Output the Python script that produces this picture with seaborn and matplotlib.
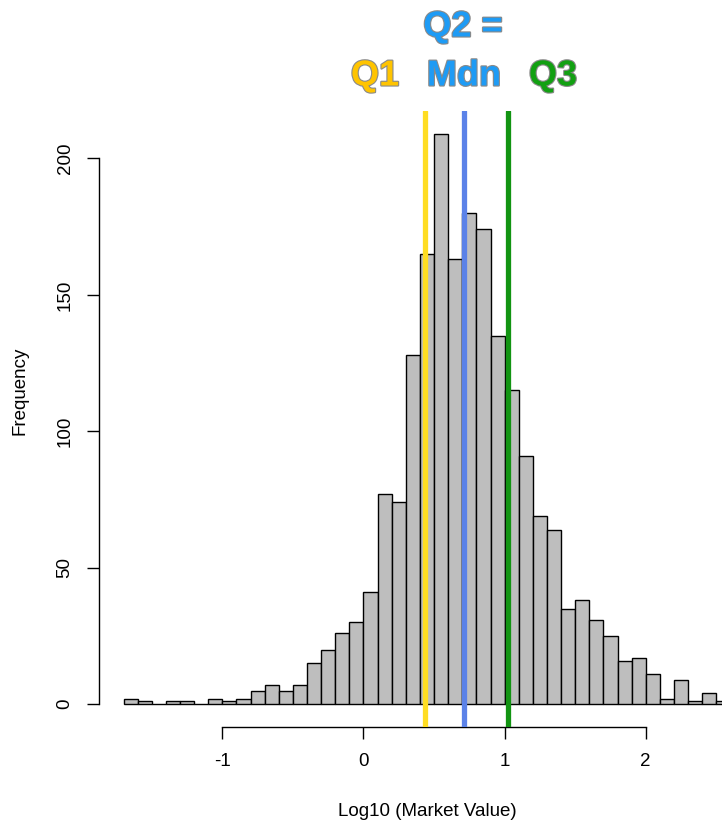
import numpy as np
import pandas as pd
import matplotlib
matplotlib.use("Agg")
import matplotlib.pyplot as plt
import matplotlib.patheffects as pe
import seaborn as sns

# ---- data ----
bin_starts = [round(-1.7 + 0.1 * i, 1) for i in range(43)]
counts = [2, 1, 0, 1, 1, 0, 2, 1, 2, 5, 7, 5, 7, 15, 20, 26, 30,
          41, 77, 74, 128, 165, 209, 163, 180, 174, 135, 115, 91, 69, 64,
          35, 38, 31, 25, 16, 17, 11, 2, 9, 1, 4, 1]
bin_width = 0.1
quartile_names = ["Q1", "Q2", "Q3"]
quartile_values = [0.437, 0.713, 1.027]
quartile_line_colors = ["#FFDD22", "#5B82E8", "#129412"]
x_ticks = [-1, 0, 1, 2]
y_ticks = [0, 50, 100, 150, 200]

centers = np.array(bin_starts) + bin_width / 2
df = pd.DataFrame({"value": centers, "count": counts})

sns.set_theme(style="white")
plt.rcParams["font.family"] = ["Liberation Sans", "DejaVu Sans"]

W, H = 722, 825
fig = plt.figure(figsize=(W / 100, H / 100), dpi=100)
left_px, right_px, top_px, bottom_px = 99.3, 754.7, 111, 727
ax = fig.add_axes([left_px / W, 1 - bottom_px / H,
                   (right_px - left_px) / W, (bottom_px - top_px) / H])

sns.histplot(data=df, x="value", weights="count", binwidth=bin_width,
             binrange=(bin_starts[0], bin_starts[-1] + bin_width), ax=ax,
             color="#BEBEBE", edgecolor="black", linewidth=1.0, alpha=1.0)

for v, c in zip(quartile_values, quartile_line_colors):
    ax.axvline(v, color=c, linewidth=3.8, zorder=5)

ax.set_xlim(-1.872, 2.772)
ax.set_ylim(-8.36, 217.36)

for s in ["top", "right"]:
    ax.spines[s].set_visible(False)
ax.spines["bottom"].set_bounds(-1, 2)
ax.spines["left"].set_bounds(0, 200)
for s in ["bottom", "left"]:
    ax.spines[s].set_color("black")
    ax.spines[s].set_linewidth(1.0)

ax.set_xticks(x_ticks)
ax.set_xticklabels([str(t) for t in x_ticks])
ax.set_yticks(y_ticks)
ax.set_yticklabels([str(t) for t in y_ticks], rotation=90, va="center")
ax.tick_params(axis="both", direction="out", length=8.5, width=1.0,
               color="black", labelsize=13.5, labelcolor="black",
               bottom=True, left=True)
ax.tick_params(axis="x", pad=10)
ax.tick_params(axis="y", pad=10)

ax.set_xlabel("Log10 (Market Value)", fontsize=13.5, color="black")
ax.set_ylabel("Frequency", fontsize=13.5, color="black")
ax.xaxis.set_label_coords(0.5, (bottom_px - 812) / (bottom_px - top_px))
ax.yaxis.set_label_coords((20 - left_px) / (right_px - left_px),
                          (bottom_px - 391) / (bottom_px - top_px))
ax.xaxis.label.set_va("center")
ax.yaxis.label.set_va("center")

stroke = [pe.withStroke(linewidth=1.6, foreground="#8a8a8a")]
txt_kw = dict(fontsize=26, fontweight="bold", ha="center", va="center",
              path_effects=stroke)
fig.text(375 / W, 1 - 76 / H, "Q1", color="#FFC400", **txt_kw)
fig.text(464 / W, 1 - 76 / H, "Mdn", color="#1E9BF5", **txt_kw)
fig.text(553 / W, 1 - 76 / H, "Q3", color="#12A012", **txt_kw)
fig.text(463 / W, 1 - 27 / H, "Q2 =", color="#1E9BF5", **txt_kw)

fig.savefig("out.png", dpi=100, facecolor="white")
